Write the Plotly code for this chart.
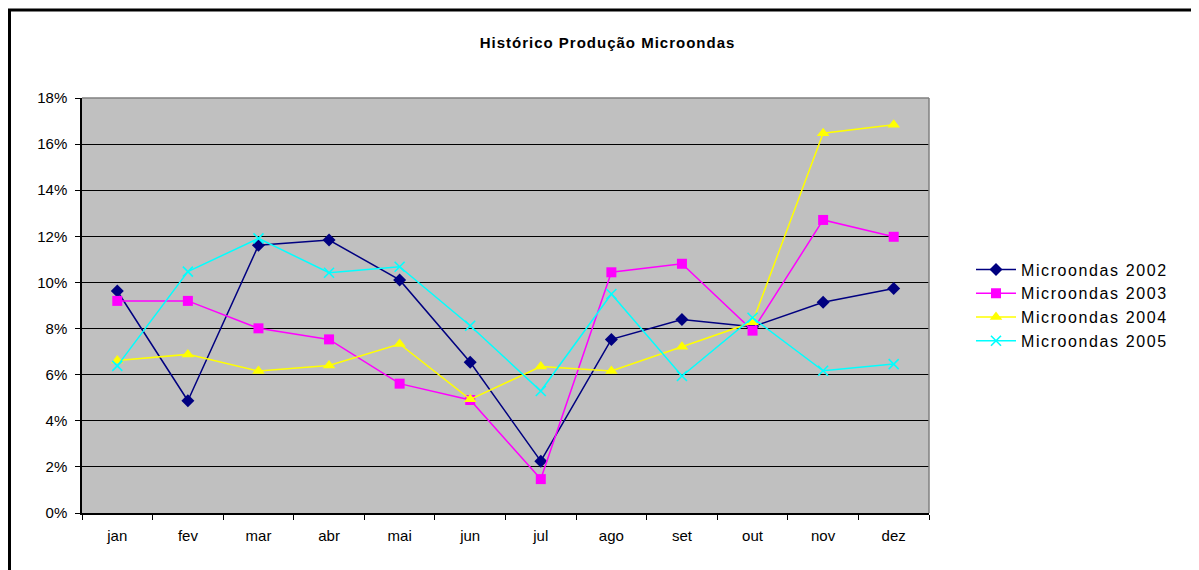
import plotly.graph_objects as go

months = ["jan", "fev", "mar", "abr", "mai", "jun", "jul", "ago", "set", "out", "nov", "dez"]
s2002 = [9.63, 4.87, 11.61, 11.84, 10.11, 6.54, 2.25, 7.53, 8.39, 8.08, 9.14, 9.74]
s2003 = [9.20, 9.20, 8.01, 7.53, 5.61, 4.90, 1.47, 10.44, 10.81, 7.91, 12.71, 11.98]
s2004 = [6.61, 6.88, 6.16, 6.40, 7.33, 4.93, 6.35, 6.16, 7.21, 8.27, 16.47, 16.84]
s2005 = [6.38, 10.47, 11.91, 10.42, 10.68, 8.12, 5.29, 9.50, 5.94, 8.47, 6.17, 6.46]
names = ["Microondas 2002", "Microondas 2003", "Microondas 2004", "Microondas 2005"]
title_text = "Histórico Produção Microondas"

FONT = "Liberation Sans, Arial, sans-serif"

fig = go.Figure()
styles = [
    dict(color="#000080", symbol="diamond", size=10),
    dict(color="#FF00FF", symbol="square", size=10),
    dict(color="#FFFF00", symbol="triangle-up", size=11),
    dict(color="#00FFFF", symbol="x-thin", size=10),
]
for name, vals, st in zip(names, [s2002, s2003, s2004, s2005], styles):
    marker = dict(symbol=st["symbol"], size=st["size"], color=st["color"])
    if st["symbol"] == "x-thin":
        marker["line"] = dict(color=st["color"], width=1.6)
    fig.add_trace(go.Scatter(
        x=months, y=[v / 100 for v in vals],
        name='<span style="letter-spacing:1.6px">' + name + "</span>",
        mode="lines+markers",
        line=dict(color=st["color"], width=1.5), marker=marker,
    ))

L, R, T, B = 74, 278, 90, 65
W, H = 1199, 570
pw, ph = W - L - R, H - T - B

fig.update_layout(
    width=W, height=H,
    margin=dict(l=L, r=R, t=T, b=B),
    paper_bgcolor="white", plot_bgcolor="#C0C0C0",
    font=dict(family=FONT, color="black", size=15),
    title=dict(text='<b><span style="letter-spacing:1px">' + title_text + "</span></b>",
               x=0.5, xref="container", xanchor="center",
               y=1 - 35 / H, yanchor="middle",
               font=dict(family=FONT, size=15, color="black")),
    legend=dict(x=(963 - L) / pw, y=0.5, xanchor="left", yanchor="middle",
                font=dict(family=FONT, size=16, color="black"),
                bgcolor="rgba(0,0,0,0)", tracegroupgap=0, itemwidth=40),
    showlegend=True,
)
fig.update_xaxes(
    type="category", tickson="boundaries", ticks="outside", ticklen=5, tickcolor="black",
    showline=True, linecolor="black", linewidth=1.5, showgrid=False,
    tickfont=dict(family=FONT, size=15), range=[-0.5, 11.5], ticklabelstandoff=8,
)
fig.update_yaxes(
    range=[0, 0.18], dtick=0.02, tickformat=".0%", ticks="outside", ticklen=5, tickcolor="black",
    showline=True, linecolor="black", linewidth=1.5, showgrid=True, gridcolor="black", gridwidth=1,
    zeroline=False, tickfont=dict(family=FONT, size=15), ticklabelstandoff=5,
)
# plot area top/right edge
fig.add_shape(type="line", xref="paper", yref="paper", x0=0, x1=1, y0=1, y1=1,
              line=dict(color="#808080", width=1.5))
fig.add_shape(type="line", xref="paper", yref="paper", x0=1, x1=1, y0=0, y1=1,
              line=dict(color="#808080", width=1.5))
# outer chart border (extends past the right and bottom edges)
fig.add_shape(type="rect", xref="paper", yref="paper",
              x0=(1.5 - L) / pw, x1=(W + 20 - L) / pw,
              y0=((H - B) - (H + 20)) / ph, y1=((H - B) - 2) / ph,
              line=dict(color="black", width=3))
fig.write_html("out.html")
